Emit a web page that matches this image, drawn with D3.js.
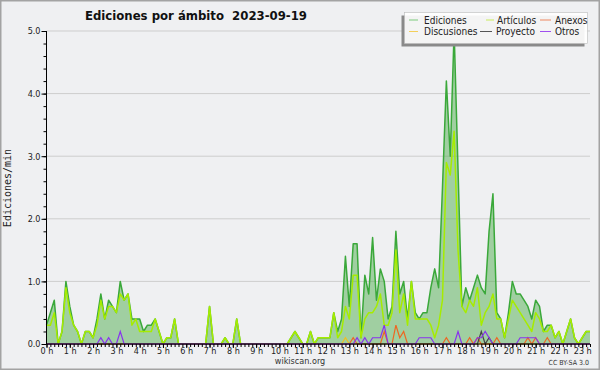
<!DOCTYPE html>
<html><head><meta charset="utf-8">
<script src="https://cdn.jsdelivr.net/npm/d3@7"></script>
<style>
html,body{margin:0;padding:0;background:#eff0f2;}
svg{display:block;}
.cf{font-family:'DejaVu Sans Condensed','DejaVu Sans',sans-serif;font-stretch:condensed;}
</style></head><body>
<svg id="c" width="600" height="370"></svg>
<script>
// ---- data: one sample every 10 minutes, from 00:00 to 23:20 ----
const minutes = d3.range(0, 141).map(i => i * 10);
const ediciones = [
 0.3,0.5,0.7,0,0.2,1.0,0.6,0.3,0.2,0,
 0.2,0.2,0.1,0.4,0.8,0.4,0.7,0.6,0.5,1.0,
 0.7,0.8,0.4,0.4,0.4,0.2,0.3,0.3,0.4,0.2,
 0,0.1,0.1,0.4,0,0,0,0,0,0,
 0,0,0.6,0,0,0,0.1,0,0,0.4,
 0,0,0,0,0,0,0,0,0,0,
 0,0,0,0.1,0.2,0.1,0,0,0.2,0,
 0.1,0.1,0.1,0.1,0.5,0.2,0.4,1.4,0.6,1.6,
 1.6,0.1,1.1,0.8,1.7,0.7,1.2,1.0,0.4,0.6,
 1.8,0.8,1.0,0.4,1.0,0.5,0.4,0.5,0.5,0.9,
 1.2,0.9,2.5,4.2,3.0,5.0,2.8,0.6,0.9,0.7,
 0.9,1.1,0.9,0.8,1.8,2.4,0.5,0.4,0.1,0.5,
 1.0,0.8,0.8,0.7,0.6,0.4,0.7,0.6,0.2,0.3,
 0.3,0.1,0.2,0,0.2,0.4,0.1,0,0.1,0.2,0.2];
const articulos = [
 0.3,0.3,0.5,0,0.2,0.9,0.5,0.3,0.2,0,
 0.2,0.2,0.1,0.3,0.7,0.4,0.6,0.6,0.5,0.8,
 0.7,0.8,0.3,0.4,0.2,0.2,0.2,0.2,0.4,0.2,
 0,0.1,0.1,0.4,0,0,0,0,0,0,
 0,0,0.6,0,0,0,0.1,0,0,0.4,
 0,0,0,0,0,0,0,0,0,0,
 0,0,0,0.1,0.2,0.1,0,0,0.2,0,
 0.1,0.1,0.1,0.1,0.5,0.1,0.2,0.6,0.4,1.1,
 1.1,0.1,0.4,0.5,0.5,0.6,0.8,0.3,0.3,0.5,
 1.5,0.5,0.8,0.3,1.0,0.4,0.4,0.4,0.4,0.3,
 0.1,0.3,0.7,2.9,2.7,3.4,1.5,0.6,0.5,0.7,
 0.6,0.9,0.3,0.5,0.6,0.8,0.4,0.4,0.1,0.4,
 0.7,0.6,0.5,0.4,0.3,0.2,0.5,0.4,0.2,0.2,
 0.3,0.1,0.2,0,0.2,0.4,0.1,0,0.1,0.2,0.2];
const anexos = [
 0,0,0,0,0,0,0,0,0,0, 0,0,0,0,0,0,0,0,0,0,
 0,0,0,0,0,0,0,0,0,0, 0,0,0,0,0,0,0,0,0,0,
 0,0,0,0,0,0,0,0,0,0, 0,0,0,0,0,0,0,0,0,0,
 0,0,0,0,0,0,0,0,0,0, 0,0,0,0,0,0,0,0,0,0.1,
 0,0,0,0,0,0,0,0.2,0,0, 0.3,0.1,0.2,0,0,0,0,0,0,0,
 0,0,0,0.1,0,0,0,0,0,0.1, 0,0.1,0,0,0,0,0.1,0,0,0,
 0,0,0,0,0.1,0,0.1,0,0,0.1, 0,0,0,0,0,0,0,0,0,0,0];
const discusiones = [
 0,0,0,0,0,0,0,0,0,0, 0,0,0,0,0,0,0,0,0,0,
 0,0,0,0,0,0,0,0,0,0, 0,0,0,0,0,0,0,0,0,0,
 0,0,0,0,0,0,0,0,0,0, 0,0,0,0,0,0,0,0,0,0,
 0,0,0,0,0,0,0,0,0,0, 0,0,0,0,0,0,0,0.1,0,0,
 0,0,0,0,0,0,0,0,0,0, 0,0,0,0,0,0,0,0,0,0,
 0,0,0,0,0,0,0,0,0,0, 0,0,0,0,0,0,0,0,0,0,
 0,0,0,0,0,0,0,0,0,0, 0,0,0,0,0,0,0,0,0,0,0];
const proyecto = [
 0,0,0,0,0,0,0,0,0,0, 0,0,0,0,0,0,0,0,0,0,
 0,0,0,0,0,0,0,0,0,0, 0,0,0,0,0,0,0,0,0,0,
 0,0,0,0,0,0,0,0,0,0, 0,0,0,0,0,0,0,0,0,0,
 0,0,0,0,0,0,0,0,0,0, 0,0,0,0,0,0,0,0,0,0,
 0,0,0,0,0,0,0,0,0,0, 0,0,0,0,0,0,0,0,0,0,
 0,0,0,0,0,0,0,0,0,0, 0,0,0.2,0,0.1,0,0,0,0,0,
 0,0,0,0,0,0,0,0,0,0, 0,0,0,0,0,0,0,0,0,0,0];
const otros = [
 0,0,0,0,0,0,0,0,0,0, 0,0,0,0,0.1,0,0.1,0,0,0.2,
 0,0,0,0,0,0,0,0,0,0, 0,0,0,0,0,0,0,0,0,0,
 0,0,0,0,0,0,0,0,0,0, 0,0,0,0,0,0,0,0,0,0,
 0,0,0,0,0,0,0,0,0,0, 0,0,0,0,0,0,0,0,0,0,
 0.1,0,0.1,0,0.1,0.1,0.1,0.3,0,0, 0,0,0,0,0,0,0.1,0.1,0.1,0.1,
 0,0,0,0,0,0,0.2,0,0,0, 0,0.1,0.1,0.2,0.1,0,0,0,0,0,
 0,0,0.1,0.1,0.1,0.1,0.1,0,0,0, 0,0,0,0,0,0,0,0,0,0,0];
const hourTicks = d3.range(0, 24).map(h => h * 60);
const hourLabels = hourTicks.map(m => (m / 60) + " h");
const yMajor = [0, 1, 2, 3, 4, 5];
const yMinor = d3.range(0, 26).map(k => k / 5);
const legendNames = ["Ediciones", "Artículos", "Anexos", "Discusiones", "Proyecto", "Otros"];
const legendColors = ["#7ccb7c", "#c9ec5a", "#ee8860", "#f3cf5a", "#555555", "#a050ee"];

// ---- drawing ----
const svg = d3.select("#c");
const W = 600, H = 370;
svg.append("rect").attr("x", 0.75).attr("y", 0.75).attr("width", W - 1.5).attr("height", H - 1.5)
  .attr("fill", "#eff0f2").attr("stroke", "#a3a3a3").attr("stroke-width", 1.5);

const x = d3.scaleLinear().domain([0, 1400]).range([46.5, 590]);
const y = d3.scaleLinear().domain([0, 5]).range([344, 31]);

// grid
svg.append("g").selectAll("line").data(yMajor.filter(v => v > 0)).join("line")
  .attr("x1", x(0)).attr("x2", x(1400)).attr("y1", d => y(d)).attr("y2", d => y(d))
  .attr("stroke", "#cdcdcd").attr("stroke-width", 1);

const pts = (arr) => arr.map((v, i) => [minutes[i], v]);
const area = d3.area().x(d => x(d[0])).y0(y(0)).y1(d => y(d[1]));
const line = d3.line().x(d => x(d[0])).y(d => y(d[1]));

svg.append("path").datum(pts(ediciones)).attr("d", area)
  .attr("fill", "#52ae4f").attr("fill-opacity", 0.5);
svg.append("path").datum(pts(ediciones)).attr("d", line)
  .attr("fill", "none").attr("stroke", "#3aa83a").attr("stroke-width", 1.5).attr("stroke-linejoin", "round");
svg.append("path").datum(pts(articulos)).attr("d", line)
  .attr("fill", "none").attr("stroke", "#a6ec00").attr("stroke-width", 1.5).attr("stroke-linejoin", "round");

const small = [[discusiones, "#f0c020"], [anexos, "#ee6622"], [proyecto, "#444444"], [otros, "#8833ee"]];
small.forEach(([arr, col]) => {
  svg.append("path").datum(pts(arr)).attr("d", line)
    .attr("fill", "none").attr("stroke", col).attr("stroke-width", 1.2);
});

// axes
const gy = svg.append("g").attr("transform", `translate(${x(0)},0)`);
gy.call(d3.axisLeft(y).tickValues(yMinor).tickSize(3).tickFormat(""));
gy.select(".domain").remove();
const gy2 = svg.append("g").attr("transform", `translate(${x(0)},0)`);
gy2.call(d3.axisLeft(y).tickValues(yMajor).tickSize(5).tickPadding(1).tickFormat(d3.format(".1f")));
gy2.select(".domain").attr("d", `M0,${y(5)}V${y(0)}`);
[gy, gy2].forEach(g => g.selectAll("line").attr("stroke", "#000"));
gy2.selectAll("text").attr("class", "cf").attr("font-size", 9).attr("fill", "#222");
gy2.attr("font-family", null);

const gx = svg.append("g").attr("transform", `translate(0,${y(0)})`);
gx.call(d3.axisBottom(x).tickValues(d3.range(0, 1401, 10)).tickSize(3).tickFormat(""));
gx.select(".domain").remove();
const gx2 = svg.append("g").attr("transform", `translate(0,${y(0)})`);
gx2.call(d3.axisBottom(x).tickValues(hourTicks).tickSize(4).tickPadding(0)
  .tickFormat((d, i) => hourLabels[i]));
gx2.select(".domain").attr("d", `M${x(0)},0H${x(1400)}`).attr("stroke-width", 1.2);
gx2.selectAll("text").attr("class", "cf").attr("font-size", 9).attr("fill", "#222");
[gx, gx2].forEach(g => g.selectAll("line").attr("stroke", "#000"));
gx2.attr("font-family", null);

// y label
svg.append("text").attr("transform", "translate(11,188) rotate(-90)")
  .attr("text-anchor", "middle").attr("font-family", "'DejaVu Sans Mono',monospace")
  .attr("font-size", 10).attr("fill", "#222").text("Ediciones/min");

// title
svg.append("text").attr("class", "cf").attr("x", 85).attr("y", 20)
  .attr("font-size", 13).attr("font-weight", "bold").attr("fill", "#111")
  .style("white-space", "pre")
  .text("Ediciones por ámbito  2023-09-19");

// footer
svg.append("text").attr("class", "cf").attr("x", 300).attr("y", 364).attr("text-anchor", "middle")
  .attr("font-size", 9).attr("fill", "#333").text("wikiscan.org");
svg.append("text").attr("class", "cf").attr("x", 589).attr("y", 365).attr("text-anchor", "end")
  .attr("font-size", 7).attr("fill", "#333").text("CC BY-SA 3.0");

// legend
const lg = svg.append("g");
lg.append("rect").attr("x", 401.5).attr("y", 15.5).attr("width", 183).attr("height", 31).attr("fill", "#8a8a8a");
lg.append("rect").attr("x", 404.5).attr("y", 12.5).attr("width", 183).attr("height", 31)
  .attr("fill", "#ffffff").attr("fill-opacity", 0.9).attr("stroke", "#bbbbbb").attr("stroke-width", 0.6);
const swX = [[409, 418], [486, 494], [540, 551], [409, 418], [480, 492], [540, 551]];
const txX = [424, 497, 555, 424, 496, 555];
const rowY = [23.5, 35];
legendNames.forEach((n, i) => {
  const r = Math.floor(i / 3);
  lg.append("line").attr("x1", swX[i][0]).attr("x2", swX[i][1])
    .attr("y1", rowY[r] - 3.5).attr("y2", rowY[r] - 3.5)
    .attr("stroke", legendColors[i]).attr("stroke-width", 1);
  lg.append("text").attr("class", "cf").attr("x", txX[i]).attr("y", rowY[r])
    .attr("font-size", 10).attr("fill", "#222").text(n);
});
</script>
</body></html>
